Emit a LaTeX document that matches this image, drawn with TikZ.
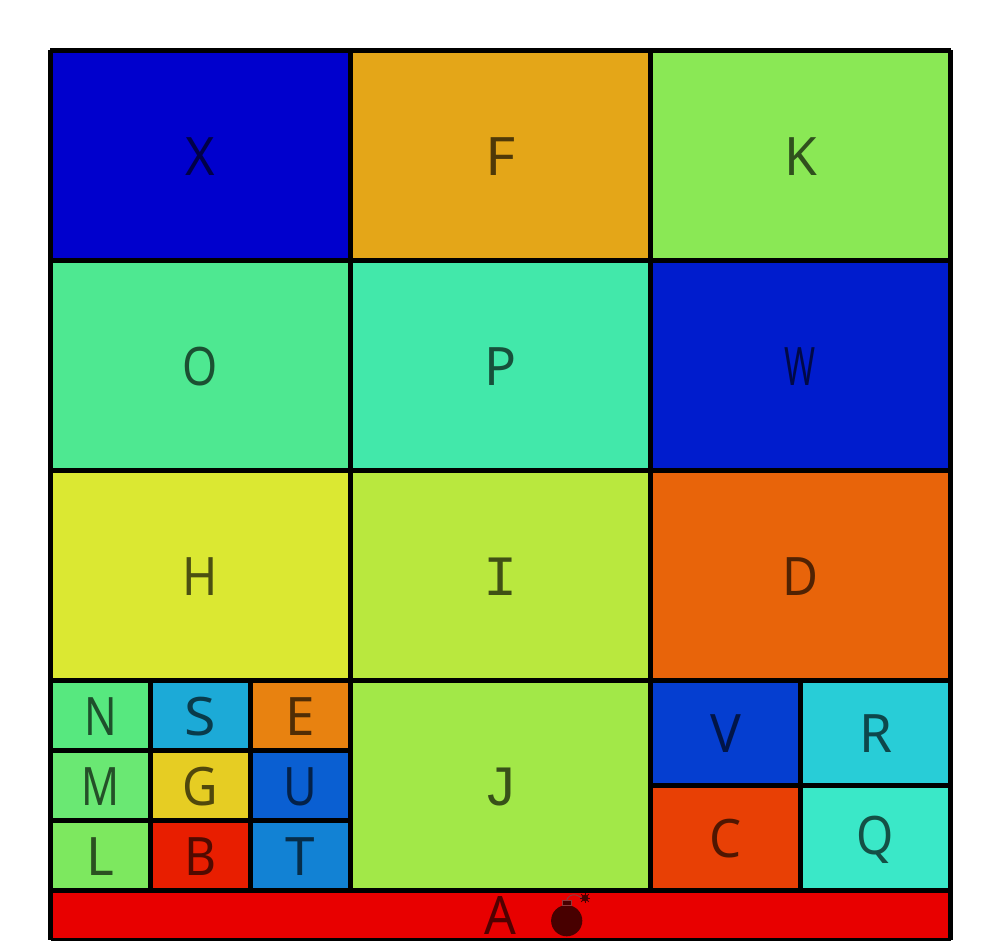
\documentclass[tikz,border=0pt]{standalone}
\usepackage{fontspec}
\setmainfont{Noto Sans}
\newfontfamily\monofam{Liberation Mono}
\tikzset{
  cell/.style={draw=none,inner sep=0pt,outer sep=0pt,
    font=\fontsize{53}{53}\selectfont,text=black,text opacity=.65,
    text height=39pt,text depth=0pt,align=center},
  rule/.style={draw=black,line width=5pt,line cap=butt},
  bombpart/.style={fill=bombdark,draw=none},
}
\definecolor{bombdark}{RGB}{72,0,0}
\definecolor{bombedge}{RGB}{140,60,60}
\newcommand{\sq}[2]{\scalebox{#1}[1]{#2}}
\newcommand{\mn}[1]{{\monofam\fontsize{57}{57}\selectfont #1}}
\newcommand{\cellbox}[7]{% name, x0, y0, x1, y1, rgb, text
  \definecolor{c#1}{RGB}{#6}
  \pgfmathsetmacro{\cw}{#4-#2}\pgfmathsetmacro{\ch}{#5-#3}
  \pgfmathsetmacro{\cx}{(#2+#4)/2}\pgfmathsetmacro{\cy}{(#3+#5)/2}
  \node[cell,fill=c#1,minimum width=\cw pt,minimum height=\ch pt] (#1) at (\cx,\cy) {#7};
}
\begin{document}
\begin{tikzpicture}[x=1pt,y=-1pt]
\useasboundingbox (0,0) rectangle (1001,940);
\cellbox{X}{50.5}{50.5}{350.5}{260.5}{0,0,205}{\sq{.95}{X}}
\cellbox{F}{350.5}{50.5}{650.5}{260.5}{228,166,24}{\sq{1.1}{F}}
\cellbox{K}{650.5}{50.5}{950.5}{260.5}{138,232,85}{K}
\cellbox{O}{50.5}{260.5}{350.5}{470.5}{78,232,145}{\sq{.85}{O}}
\cellbox{P}{350.5}{260.5}{650.5}{470.5}{66,232,170}{P}
\cellbox{W}{650.5}{260.5}{950.5}{470.5}{0,28,205}{\sq{.63}{W}}
\cellbox{H}{50.5}{470.5}{350.5}{680.5}{219,232,50}{\sq{.9}{H}}
\cellbox{I}{350.5}{470.5}{650.5}{680.5}{185,232,62}{\mn{I}}
\cellbox{D}{650.5}{470.5}{950.5}{680.5}{232,100,10}{\sq{.93}{D}}
\cellbox{N}{50.5}{680.5}{150.5}{750.5}{87,232,127}{\sq{.81}{N}}
\cellbox{S}{150.5}{680.5}{250.5}{750.5}{28,170,215}{\sq{1.08}{S}}
\cellbox{E}{250.5}{680.5}{350.5}{750.5}{232,130,16}{E}
\cellbox{M}{50.5}{750.5}{150.5}{820.5}{106,232,115}{\sq{.79}{M}}
\cellbox{G}{150.5}{750.5}{250.5}{820.5}{230,205,35}{\sq{.92}{G}}
\cellbox{U}{250.5}{750.5}{350.5}{820.5}{10,95,210}{\sq{.87}{U}}
\cellbox{L}{50.5}{820.5}{150.5}{890.5}{125,232,95}{L}
\cellbox{B}{150.5}{820.5}{250.5}{890.5}{232,30,0}{\sq{.93}{B}}
\cellbox{T}{250.5}{820.5}{350.5}{890.5}{18,130,212}{T}
\cellbox{J}{350.5}{680.5}{650.5}{890.5}{162,232,72}{\mn{J}}
\cellbox{V}{650.5}{680.5}{800.5}{785.5}{5,62,208}{\sq{.97}{V}}
\cellbox{R}{800.5}{680.5}{950.5}{785.5}{40,205,215}{R}
\cellbox{C}{650.5}{785.5}{800.5}{890.5}{232,64,5}{\sq{.96}{C}}
\cellbox{Q}{800.5}{785.5}{950.5}{890.5}{58,232,200}{\raisebox{3.5pt}{\sq{.9}{Q}}}
\cellbox{A}{50.5}{890.5}{950.5}{939.5}{232,0,0}{\sq{.94}{A}}
\draw[rule] (50,50.5) -- (951,50.5);
\draw[rule] (50.5,50) -- (50.5,940);
\draw[rule] (950.5,50) -- (950.5,940);
\draw[rule] (50.5,940.5) -- (950.5,940.5);
\foreach \yy in {260.5,470.5,680.5,890.5} \draw[rule] (50.5,\yy) -- (950.5,\yy);
\foreach \xx in {350.5,650.5} \draw[rule] (\xx,50.5) -- (\xx,890.5);
\foreach \xx in {150.5,250.5} \draw[rule] (\xx,680.5) -- (\xx,890.5);
\foreach \yy in {750.5,820.5} \draw[rule] (50.5,\yy) -- (350.5,\yy);
\draw[rule] (800.5,680.5) -- (800.5,890.5);
\draw[rule] (650.5,785.5) -- (950.5,785.5);
\fill[bombpart] (566.7,920.7) circle[radius=15.6];
\draw[bombedge,line width=.8pt,fill=bombdark] (562.4,900.4) rectangle (571,905.4);
\draw[bombedge,line width=.9pt] (566.8,900) .. controls (568,896) and (572,894) .. (576,895) .. controls (578,895.5) and (580,897) .. (582,898);
\fill[bombpart] (585,898) circle[radius=3.3];
\foreach \a in {0,45,...,315} \draw[bombdark,line width=1pt] (585,898) -- ++(\a:5.4);
\end{tikzpicture}
\end{document}
